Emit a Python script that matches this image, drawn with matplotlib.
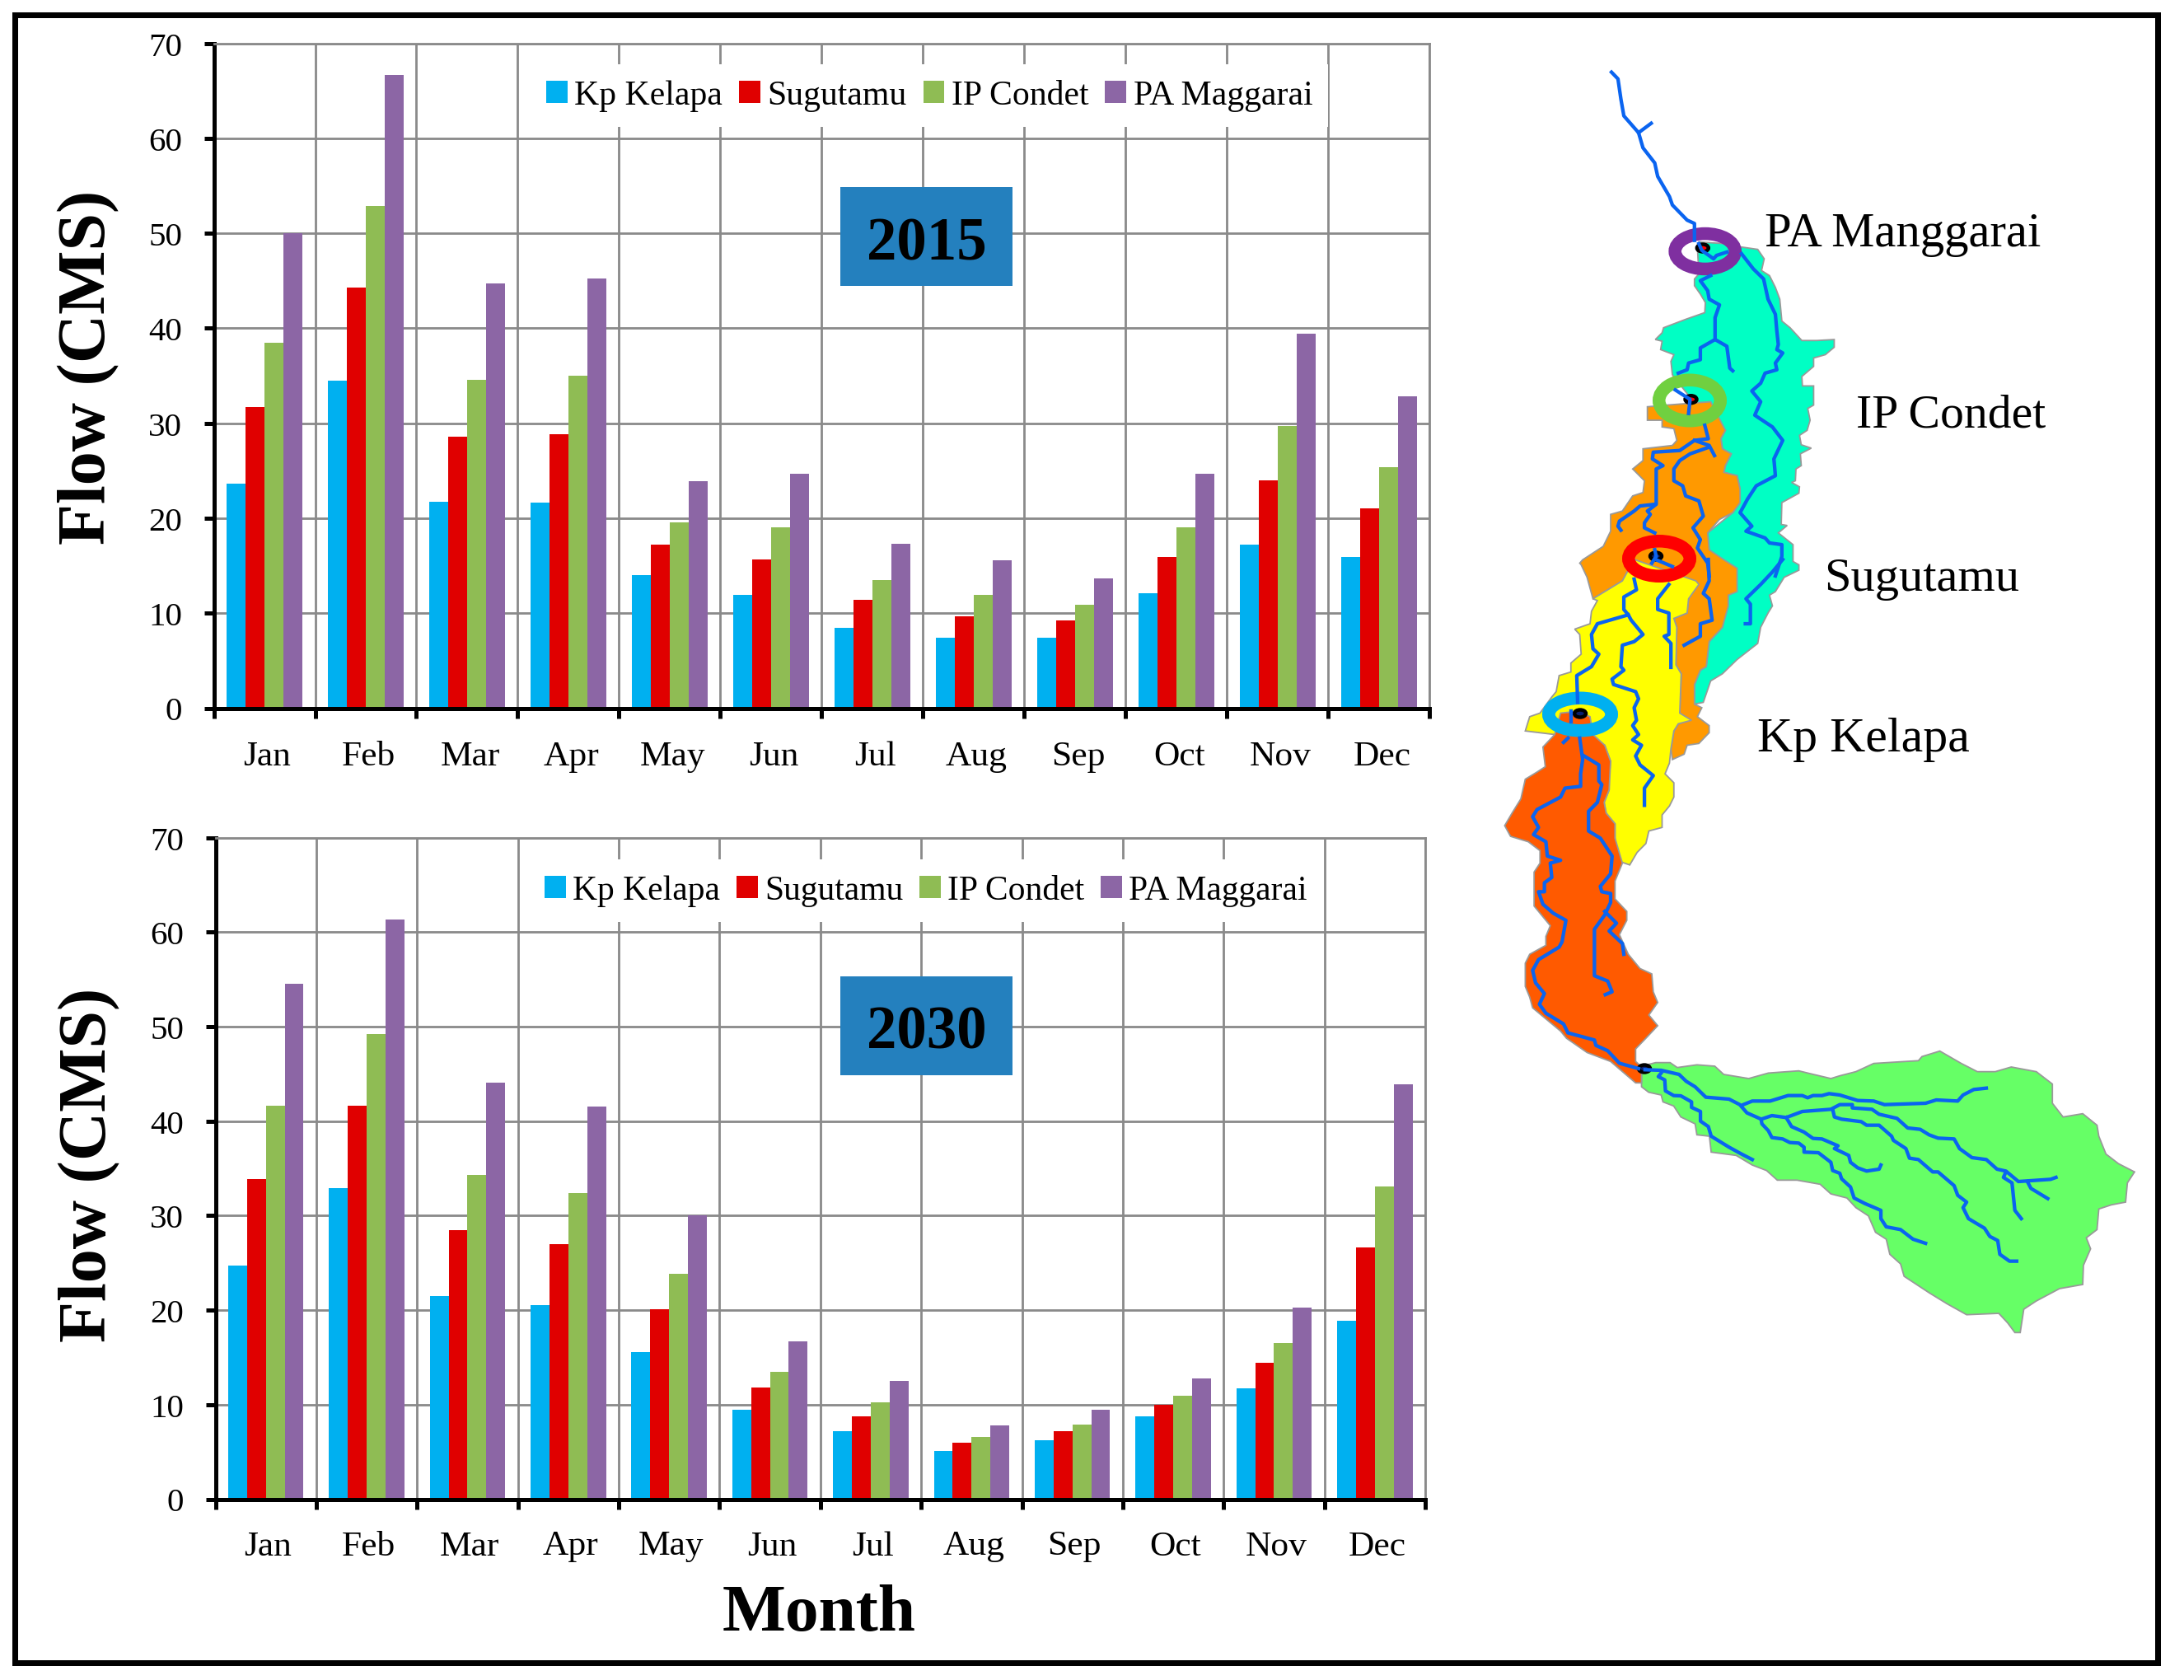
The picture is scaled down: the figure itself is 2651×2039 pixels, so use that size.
import numpy as np
import matplotlib
matplotlib.use("Agg")
import matplotlib.pyplot as plt
from matplotlib.patches import Ellipse, Polygon, Rectangle
from matplotlib.transforms import ScaledTranslation

plt.rcParams['font.family'] = 'Liberation Serif'

W, H = 2651, 2040
PX = 72 / 100  # points per pixel at dpi 100

months = ["Jan", "Feb", "Mar", "Apr", "May", "Jun", "Jul", "Aug", "Sep", "Oct", "Nov", "Dec"]
series_names = ["Kp Kelapa", "Sugutamu", "IP Condet", "PA Maggarai"]
series_colors = ["#00B0F0", "#E00000", "#8FBC54", "#8C66A5"]

kp_2015 = [23.6, 34.5, 21.7, 21.6, 14.0, 11.9, 8.5, 7.4, 7.4, 12.1, 17.2, 15.9]
sug_2015 = [31.7, 44.3, 28.6, 28.8, 17.2, 15.7, 11.4, 9.7, 9.2, 15.9, 24.0, 21.0]
ip_2015 = [38.5, 52.9, 34.6, 35.0, 19.6, 19.0, 13.5, 11.9, 10.9, 19.0, 29.7, 25.4]
pa_2015 = [50.0, 66.7, 44.7, 45.2, 23.9, 24.7, 17.3, 15.6, 13.7, 24.7, 39.4, 32.8]

kp_2030 = [24.7, 32.9, 21.5, 20.5, 15.6, 9.5, 7.2, 5.1, 6.2, 8.8, 11.7, 18.9]
sug_2030 = [33.9, 41.6, 28.5, 27.0, 20.1, 11.8, 8.8, 6.0, 7.2, 10.0, 14.4, 26.6]
ip_2030 = [41.6, 49.2, 34.3, 32.4, 23.8, 13.5, 10.2, 6.6, 7.9, 10.9, 16.5, 33.1]
pa_2030 = [54.5, 61.3, 44.1, 41.5, 30.0, 16.7, 12.5, 7.8, 9.5, 12.8, 20.3, 43.9]

teal_a = [(785,590),(790,575),(880,580),(935,590),(990,597),(1012,625),(1003,660),(1030,675),(1050,710),(1065,745),
          (1072,810),(1100,830),(1140,868),(1190,868),(1250,865),(1250,888),(1220,910),(1180,920),(1180,945),(1140,975),
          (1142,1003),(1180,1003),(1180,1060),(1160,1070),(1168,1105),(1158,1135),(1132,1150),(1138,1178),(1172,1188),
          (1135,1205),(1138,1240),(1120,1250),(1118,1285),(1105,1290),(1132,1303),(1130,1322),(1072,1350),(1070,1415),
          (1090,1418),(1060,1440),(1110,1475),(1110,1525),(1130,1535)]
teal_b = [(1130,30),(1080,50),(1050,90),(1030,100),(1040,130),(1025,150),(1000,190),(990,235),(920,280),(870,320),
          (830,340),(805,400),(775,405),(775,350),(795,310),(815,300),(825,230),(870,190),(885,130),(890,100),(875,40)]
teal_c = [(825,1490),(820,1440),(905,1380),(930,1350),(930,1310),(920,1270),(875,1260),(880,1240),(900,1205),(870,1190),
          (865,1160),(880,1135),(830,1115),(700,970),(695,930),(705,910),(660,895),(665,870),(642,865),(665,845),(670,830),
          (715,815),(745,805),(810,785),(812,755),(795,730),(775,705),(775,685),(790,670)]

orange_a = [(615,1065),(680,1060),(830,1050),(880,1135),(865,1160),(870,1190),(900,1205),(880,1240),(875,1260),(920,1270),
            (930,1310),(930,1350),(905,1380),(860,1400),(820,1440),(825,1490),(875,1520),(920,1545)]
orange_b = [(920,40),(920,90),(890,100),(890,130),(870,190),(825,230),(815,300),(795,310),(775,350),(775,405),(800,415),
            (785,440),(825,465),(825,485),(790,515),(750,520),(740,545),(700,560),(695,530),(705,480),(720,460),(760,450),
            (725,430),(730,320),(712,295),(715,190),(705,165),(750,150),(755,110),(785,70),(570,0),(530,60),(430,110),
            (410,50),(390,15)]
orange_c = [(385,1530),(395,1520),(465,1480),(490,1435),(490,1385),(530,1375),(565,1330),(600,1320),(605,1285),(565,1250),
            (600,1225),(600,1190),(700,1180),(715,1165),(705,1130),(665,1125),(665,1105),(615,1105)]

yellow_b = [(430,110),(530,60),(570,0),(780,60),(790,70),(755,110),(750,150),(705,165),(715,190),(712,295),(730,320),
            (725,430),(765,450),(720,460),(705,480),(695,530),(690,570),(675,600),(705,625),(705,665),(690,690),(665,715),
            (665,750),(620,760),(610,795),(580,820),(555,855),(520,845),(505,780),(505,740),(475,710),(468,680),(485,645),
            (485,610),(490,565),(470,520),(430,500),(300,490),(200,480),(215,440),(250,430),(290,385),(305,370),(315,325),
            (355,315),(355,290),(390,265),(385,210),(368,195),(420,180),(425,145),(445,115)]

dark_b = [(320,430),(380,425),(420,440),(430,490),(470,520),(490,565),(485,645),(468,680),(475,710),(505,740),(505,780),
          (530,850),(505,900),(505,950),(545,985),(545,1010),(520,1050),(550,1105),(590,1145),(630,1160),(635,1210),
          (650,1240),(620,1275),(650,1305),(610,1340),(575,1370),(575,1405),(595,1420),(595,1465),(575,1465),(490,1405),
          (410,1380),(340,1340),(320,1320),(225,1255),(215,1225),(200,1195),(200,1130),(215,1105),(270,1080),(270,1055),
          (285,1025),(255,995),(230,970),(230,875),(250,850),(250,815),(210,790),(150,775),(130,745),(155,710),(185,670),
          (200,615),(240,595),(268,580),(260,525),(300,490)]

lime_c = [(75,105),(115,92),(155,92),(175,110),(230,100),(280,105),(305,135),(375,150),(430,130),(515,122),(540,130),
          (605,150),(630,140),(675,125),(725,95),(850,85),(860,70),(910,50),(970,95),(1015,125),(1065,125),(1110,108),
          (1180,125),(1225,170),(1225,240),(1255,290),(1310,278),(1350,320),(1355,360),(1375,425),(1410,460),(1455,490),
          (1435,530),(1430,600),(1390,610),(1355,625),(1350,700),(1320,730),(1332,770),(1312,830),(1310,900),(1245,915),
          (1180,960),(1145,990),(1135,1075),(1120,1075),(1100,1040),(1075,1005),(985,1010),(930,970),(880,930),(810,870),
          (800,825),(770,790),(760,735),(730,710),(710,650),(675,620),(650,585),(605,570),(575,535),(510,520),(455,520),
          (425,485),(385,465),(340,430),(270,418),(265,360),(230,355),(225,315),(185,290),(165,250),(135,235),(130,210),
          (95,200),(75,180)]

rivers_top = [
    [(493,70),(515,90),(525,150),(535,200),(585,250),(600,295),(640,340),(650,380),(690,440),(700,465),(750,510),(775,520),(775,570)],
    [(585,250),(628,222)],
    [(790,580),(800,600),(840,625),(850,615),(885,605)],
    [(935,610),(975,655),(1010,685),(1025,745),(1050,790),(1055,840),(1060,880),(1055,895),(1075,905),(1050,935),(1055,955),
     (1015,965),(1000,995),(970,1018),(1000,1050),(980,1090),(1040,1125),(1075,1165),(1045,1220),(1050,1270),(985,1300),
     (955,1340),(930,1380),(970,1420),(950,1435),(1015,1455),(1030,1470),(1072,1475),(1072,1510),(1050,1568)],
    [(830,675),(795,690),(820,720),(825,745),(860,762),(845,800),(845,865),(795,890),(795,925),(755,935),(750,955),(720,965)],
    [(845,865),(885,885),(895,950),(905,958)],
    [(710,1015),(760,1043),(755,1085)],
    [(810,1120),(822,1160),(775,1165),(725,1195),(635,1200),(632,1220),(668,1240),(645,1250),(645,1355),(615,1375),(625,1385),
     (605,1410),(605,1425),(640,1440)],
    [(640,1355),(590,1360),(570,1375),(520,1405),(515,1420),(525,1432)],
    [(775,1165),(825,1180),(843,1210)],
    [(825,1185),(760,1205),(725,1225),(705,1250),(705,1285),(735,1300),(745,1330),(790,1345),(805,1390),(770,1425),(795,1460),
     (785,1485),(820,1530),(825,1568)],
    [(640,1490),(645,1510),(630,1530)],
    [(645,1520),(700,1540)],
]
rivers_mid = [
    [(1075,0),(1040,35),(1000,70),(950,110),(965,125),(965,180),(948,180)],
    [(822,0),(825,60),(805,95),(825,110),(835,170),(795,180),(795,215),(740,240)],
    [(570,55),(578,85),(535,105),(535,140),(550,155),(560,170),(600,210),(570,230),(530,240),(525,300),(535,310),(495,335),
     (500,350),(575,370),(585,390),(570,415),(578,450),(565,465),(585,490),(565,505),(595,520),(575,550),(590,575),(635,605),
     (605,640),(605,688)],
    [(550,155),(445,180),(425,210),(430,250),(450,265),(425,300),(375,325),(378,400)],
    [(688,70),(650,110),(650,140),(688,150),(688,210),(672,215),(695,235),(695,302)],
    [(385,500),(395,560),(388,600),(388,635),(335,640),(320,665),(240,700),(225,720),(245,750),(228,770),(270,790),(275,830),
     (320,842),(285,850),(290,890),(265,905),(265,930),(245,930),(260,965),(295,990),(338,1010),(325,1070),(315,1085),(245,1120),
     (225,1150),(235,1185),(265,1215),(248,1245),(270,1270),(330,1300),(345,1325),(435,1345),(440,1360),(480,1375),(520,1410),(585,1425)],
    [(400,550),(450,575),(450,620),(460,630),(445,680),(415,705),(415,760),(455,780),(495,830),(490,880),(455,915),(460,930),
     (490,935),(490,960),(470,995),(435,1035),(435,1165),(480,1180),(495,1210),(472,1218)],
    [(470,985),(510,1018),(485,1040),(530,1075),(535,1105)],
    [(355,425),(355,455)],
    [(345,500),(330,512)],
]
rivers_low = [
    [(85,118),(130,120),(180,135),(200,160),(225,180),(255,218),(320,225),(350,245),(370,275),(410,298),(440,285),(480,292),
     (525,270),(605,262),(630,245),(665,245),(665,257),(720,262),(740,280),(790,295),(820,330),(855,335),(880,355),(905,367),
     (950,370),(965,405),(1000,438),(1040,445),(1070,480),(1095,487),(1130,525),(1220,517),(1235,510)],
    [(130,130),(122,143),(140,155),(142,195),(165,212),(185,213),(215,235),(215,255),(240,270),(240,305),(262,325),(270,360),
     (320,400),(355,425),(385,445)],
    [(360,245),(385,232),(435,232),(485,212),(525,212),(540,220),(555,212),(580,212),(600,205),(630,210),(680,230),(725,232),
     (755,245),(870,240),(900,228),(960,232),(975,210),(1005,190),(1040,185)],
    [(410,300),(412,315),(430,340),(440,365),(470,370),(490,383),(515,385),(530,400),(530,418),(570,420),(605,455),(610,485),
     (630,495),(635,515),(660,545),(670,585),(700,605),(745,630),(745,660),(760,690),(800,700),(835,735),(870,750)],
    [(480,292),(495,325),(530,345),(555,368),(580,370),(625,395),(615,405),(655,430),(660,455),(680,475),(705,487),(740,480),(745,465)],
    [(610,262),(615,290),(635,298),(690,307),(705,320),(740,320),(775,360),(780,375),(815,405),(825,440),(850,445),(890,490),
     (905,490),(950,540),(960,575),(985,600),(975,620),(990,660),(1035,695),(1050,725),(1072,740),(1078,790),(1105,815),(1125,815)],
    [(1095,490),(1088,510),(1112,530),(1120,630),(1138,660)],
    [(1155,525),(1165,550),(1212,587)],
]


def crop_top(pts):
    a = np.array(pts, float)
    return np.c_[1780 + a[:, 0] / 2.8, 60 + a[:, 1] / 2.45]


def crop_mid(pts):
    a = np.array(pts, float)
    return np.c_[1780 + a[:, 0] / 2.8, 680 + a[:, 1] / 2.306]


def crop_low(pts):
    a = np.array(pts, float)
    return np.c_[1960 + a[:, 0] / 2.306, 1260 + a[:, 1] / 3]


def axes_px(left, top, right, bottom):
    return fig.add_axes([left / W, 1 - bottom / H, (right - left) / W, (bottom - top) / H])


def draw_bars(ax, values, label_pad, label_shift):
    width = 23 / 123
    x = np.arange(12) + 0.5
    for k, vals in enumerate(values):
        ax.bar(x + (k - 1.5) * width, vals, width=width, color=series_colors[k], label=series_names[k], zorder=2)
    ax.set_xlim(0, 12)
    ax.set_ylim(0, 70)
    ax.set_yticks(range(0, 71, 10))
    ax.set_xticks(range(13))
    ax.set_xticklabels([])
    ax.set_xticks(x, minor=True)
    ax.set_xticklabels(months, minor=True, fontsize=31.3)
    ax.tick_params(axis='x', which='minor', length=0, pad=label_pad)
    ax.tick_params(axis='x', which='major', length=12 * PX, width=5 * PX, color='black')
    ax.tick_params(axis='y', length=12 * PX, width=5 * PX, color='black', labelsize=29.5, pad=19)
    for lbl in ax.get_xticklabels(minor=True):
        lbl.set_transform(lbl.get_transform() + ScaledTranslation(label_shift / 100, 0, fig.dpi_scale_trans))
    ax.grid(True, which='major', color='#8A8A8A', lw=2.8 * PX)
    ax.set_axisbelow(True)
    for side in ['top', 'right']:
        ax.spines[side].set_color('#8A8A8A')
        ax.spines[side].set_linewidth(2.8 * PX)
    for side in ['left', 'bottom']:
        ax.spines[side].set_color('black')
        ax.spines[side].set_linewidth(5 * PX)


fig = plt.figure(figsize=(W / 100, H / 100), dpi=100, facecolor='white')

ax1 = axes_px(259.5, 53.5, 1735.5, 860.5)
draw_bars(ax1, [kp_2015, sug_2015, ip_2015, pa_2015], 28, 3.5)

ax2 = axes_px(261.5, 1017.5, 1730, 1820.5)
draw_bars(ax2, [kp_2030, sug_2030, ip_2030, pa_2030], 27, 2.5)

over = fig.add_axes([0, 0, 1, 1], zorder=10)
over.set_xlim(0, W)
over.set_ylim(H, 0)
over.axis('off')
over.patch.set_alpha(0)

for ax, center, size in [(ax1, (1128, 117), 30.1), (ax2, (1124, 1082), 29.9)]:
    ax.legend(loc='center', bbox_to_anchor=center, bbox_transform=over.transData, ncol=4, fontsize=size,
              frameon=True, facecolor='white', edgecolor='none', framealpha=1, fancybox=False,
              handlelength=0.62, handleheight=0.62, handletextpad=0.2, columnspacing=0.48,
              borderpad=0.45, borderaxespad=0)

# year boxes
for year, top in [("2015", 228), ("2030", 1186)]:
    over.add_patch(Rectangle((1020, top), 209, 120, facecolor='#2480BE', edgecolor='none'))
    over.text(1125, top + 87, year, fontsize=52.5, fontweight='bold', ha='center', va='baseline')

# axis titles
over.text(127, 446, "Flow (CMS)", fontsize=59, fontweight='bold', rotation=90, rotation_mode='anchor', ha='center', va='baseline')
over.text(128, 1414, "Flow (CMS)", fontsize=59, fontweight='bold', rotation=90, rotation_mode='anchor', ha='center', va='baseline')
over.text(994, 1979, "Month", fontsize=58.6, fontweight='bold', ha='center', va='baseline')

# outer frame
over.add_patch(Rectangle((17.5, 18.5), 2601, 2000, facecolor='none', edgecolor='black', lw=7 * PX))

# sub basins
edge = dict(edgecolor='#999999', lw=1.8 * PX, joinstyle='miter')
over.add_patch(Polygon(crop_low(lime_c), facecolor='#66FF66', **edge))
over.add_patch(Polygon(np.r_[crop_top(teal_a), crop_mid(teal_b), crop_top(teal_c)], facecolor='#00FFC4', **edge))
over.add_patch(Polygon(np.r_[crop_top(orange_a), crop_mid(orange_b), crop_top(orange_c)], facecolor='#FF9900', **edge))
over.add_patch(Polygon(crop_mid(yellow_b), facecolor='#FFFF00', **edge))
over.add_patch(Polygon(crop_mid(dark_b), facecolor='#FF5A00', **edge))

for group, conv in [(rivers_top, crop_top), (rivers_mid, crop_mid), (rivers_low, crop_low)]:
    for r in group:
        p = conv(r)
        over.plot(p[:, 0], p[:, 1], color='#0A64F0', lw=4.3 * PX, solid_joinstyle='round')

# gauge rings
rings = [((2069.7, 306), 88.6, 58.4, '#7F2FA0'), ((2051, 487), 90, 65, '#70D040'),
         ((2014, 679), 90, 58, '#FF0000'), ((1918, 868), 92, 55, '#00B0F0')]
for center, w, h, col in rings:
    over.add_patch(Ellipse(center, w - 15.5, h - 15.5, facecolor='none', edgecolor=col, lw=15.5 * PX))

dots = [((2066.8, 302), 'red'), ((2052.5, 485.7), 'red'), ((2010, 676), '#0A2070'), ((1918, 867), '#0A2070'), ((1996, 1298), '#0A2070')]
for center, col in dots:
    over.add_patch(Ellipse(center, 14, 9, facecolor=col, edgecolor='black', lw=4.4 * PX))

# gauge names
over.text(2142, 299, "PA Manggarai", fontsize=42.2, ha='left', va='baseline')
over.text(2253, 519, "IP Condet", fontsize=41.5, ha='left', va='baseline')
over.text(2214, 717, "Sugutamu", fontsize=42, ha='left', va='baseline')
over.text(2133, 912, "Kp Kelapa", fontsize=43, ha='left', va='baseline')

fig.savefig("out.png", dpi=100)
